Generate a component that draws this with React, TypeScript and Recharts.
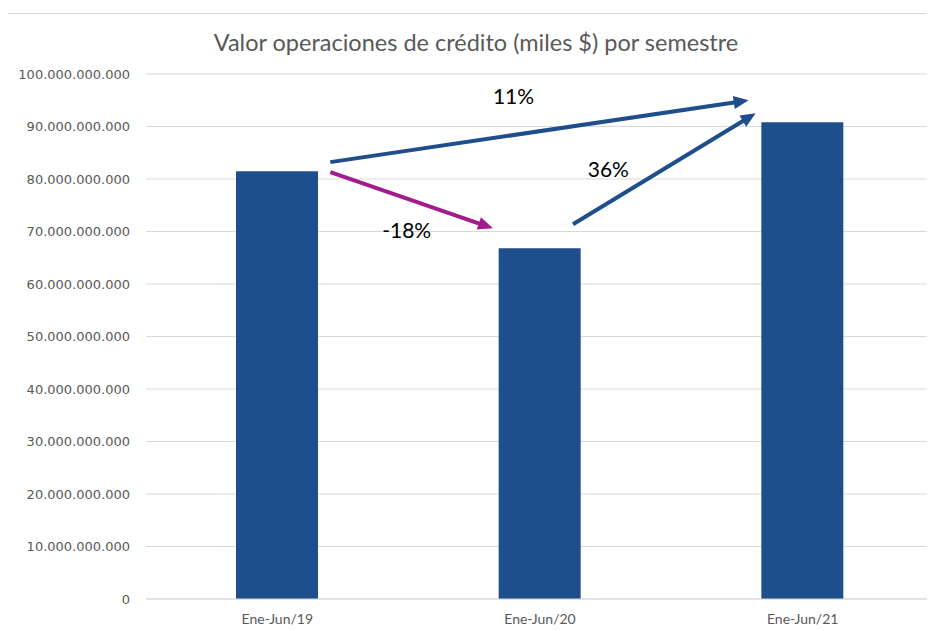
import React from "react";
import {
  BarChart,
  Bar,
  XAxis,
  YAxis,
  CartesianGrid,
  ReferenceLine,
} from "recharts";

const categories = ["Ene-Jun/19", "Ene-Jun/20", "Ene-Jun/21"];
const values = [81_500_000_000, 66_800_000_000, 90_800_000_000];
const yTicks = [
  0, 10_000_000_000, 20_000_000_000, 30_000_000_000, 40_000_000_000,
  50_000_000_000, 60_000_000_000, 70_000_000_000, 80_000_000_000,
  90_000_000_000, 100_000_000_000,
];
const changeLabels = ["11%", "-18%", "36%"];

const BAR_COLOR = "#1F4E8C";
const DOWN_COLOR = "#A31C8E";
const GREY = "#595959";

const data = categories.map((period, i) => ({ period, value: values[i] }));

// dotted thousands, e.g. 100.000.000.000
const fmt = (v: number) =>
  String(v).replace(/\B(?=(\d{3})+(?!\d))/g, ".");

type ArrowOpts = {
  dx1: number;
  dy1: number;
  dx2: number;
  dy2: number;
  color: string;
  label: string;
  lx: number;
  ly: number;
};

// arrow drawn between two points that recharts computed from the segment
const arrowShape = (o: ArrowOpts) => (props: any) => {
  const sx = props.x1 + o.dx1;
  const sy = props.y1 + o.dy1;
  const ex = props.x2 + o.dx2;
  const ey = props.y2 + o.dy2;
  const ang = Math.atan2(ey - sy, ex - sx);
  const c = Math.cos(ang);
  const s = Math.sin(ang);
  const head = 15;
  const half = 6.5;
  const bx = ex - c * head;
  const by = ey - s * head;
  const pts = [
    [ex, ey],
    [bx - s * half, by + c * half],
    [bx + s * half, by - c * half],
  ]
    .map((p) => p.join(","))
    .join(" ");
  const mx = (sx + ex) / 2;
  const my = (sy + ey) / 2;
  return (
    <g>
      <line
        x1={sx}
        y1={sy}
        x2={bx + c * 2}
        y2={by + s * 2}
        stroke={o.color}
        strokeWidth={4}
      />
      <polygon points={pts} fill={o.color} />
      <text
        x={mx + o.lx}
        y={my + o.ly}
        textAnchor="middle"
        dominantBaseline="central"
        fontFamily="Lato, sans-serif"
        fontSize={21}
        fill="#000"
      >
        {o.label}
      </text>
    </g>
  );
};

export default function App() {
  return (
    <div style={{ position: "relative", width: 927, height: 623 }}>
      <div
        style={{
          position: "absolute",
          left: -1,
          top: 5,
          width: 928,
          height: 618,
          borderLeft: "1px solid #D9D9D9",
          borderTop: "1px solid #D9D9D9",
          boxSizing: "border-box",
        }}
      />
      <div
        style={{
          position: "absolute",
          left: 0,
          top: 21,
          width: 936,
          textAlign: "center",
          fontFamily: "Lato, sans-serif",
          fontSize: 23.5,
          lineHeight: "26px",
          color: GREY,
        }}
      >
        Valor operaciones de crédito (miles $) por semestre
      </div>
      <BarChart
        width={927}
        height={623}
        data={data}
        margin={{ top: 66, right: 1, bottom: 2, left: 8 }}
        style={{ position: "absolute", left: 0, top: 0 }}
      >
        <CartesianGrid vertical={false} stroke="#D9D9D9" />
        <XAxis
          dataKey="period"
          height={30}
          tickLine={false}
          axisLine={{ stroke: "#D9D9D9" }}
          tickMargin={9}
          tick={{ fontSize: 14, fill: GREY, fontFamily: "Lato, sans-serif" }}
        />
        <YAxis
          width={130}
          domain={[0, 100_000_000_000]}
          ticks={yTicks}
          tickFormatter={fmt}
          axisLine={false}
          tickLine={false}
          tickMargin={10}
          tick={{ fontSize: 13, fill: GREY, fontFamily: "DejaVu Sans, sans-serif" }}
        />
        <Bar dataKey="value" fill={BAR_COLOR} barSize={82} isAnimationActive={false} />
        <ReferenceLine
          segment={[
            { x: categories[0], y: values[0] },
            { x: categories[2], y: values[2] },
          ]}
          shape={arrowShape({
            dx1: 53, dy1: -9, dx2: -54, dy2: -22,
            color: BAR_COLOR, label: changeLabels[0], lx: -26, ly: -36,
          })}
        />
        <ReferenceLine
          segment={[
            { x: categories[0], y: values[0] },
            { x: categories[1], y: values[1] },
          ]}
          shape={arrowShape({
            dx1: 53, dy1: 1, dx2: -47, dy2: -20,
            color: DOWN_COLOR, label: changeLabels[1], lx: -5, ly: 29,
          })}
        />
        <ReferenceLine
          segment={[
            { x: categories[1], y: values[1] },
            { x: categories[2], y: values[2] },
          ]}
          shape={arrowShape({
            dx1: 33, dy1: -24, dx2: -47, dy2: -9,
            color: BAR_COLOR, label: changeLabels[2], lx: -56, ly: 0,
          })}
        />
      </BarChart>
    </div>
  );
}
